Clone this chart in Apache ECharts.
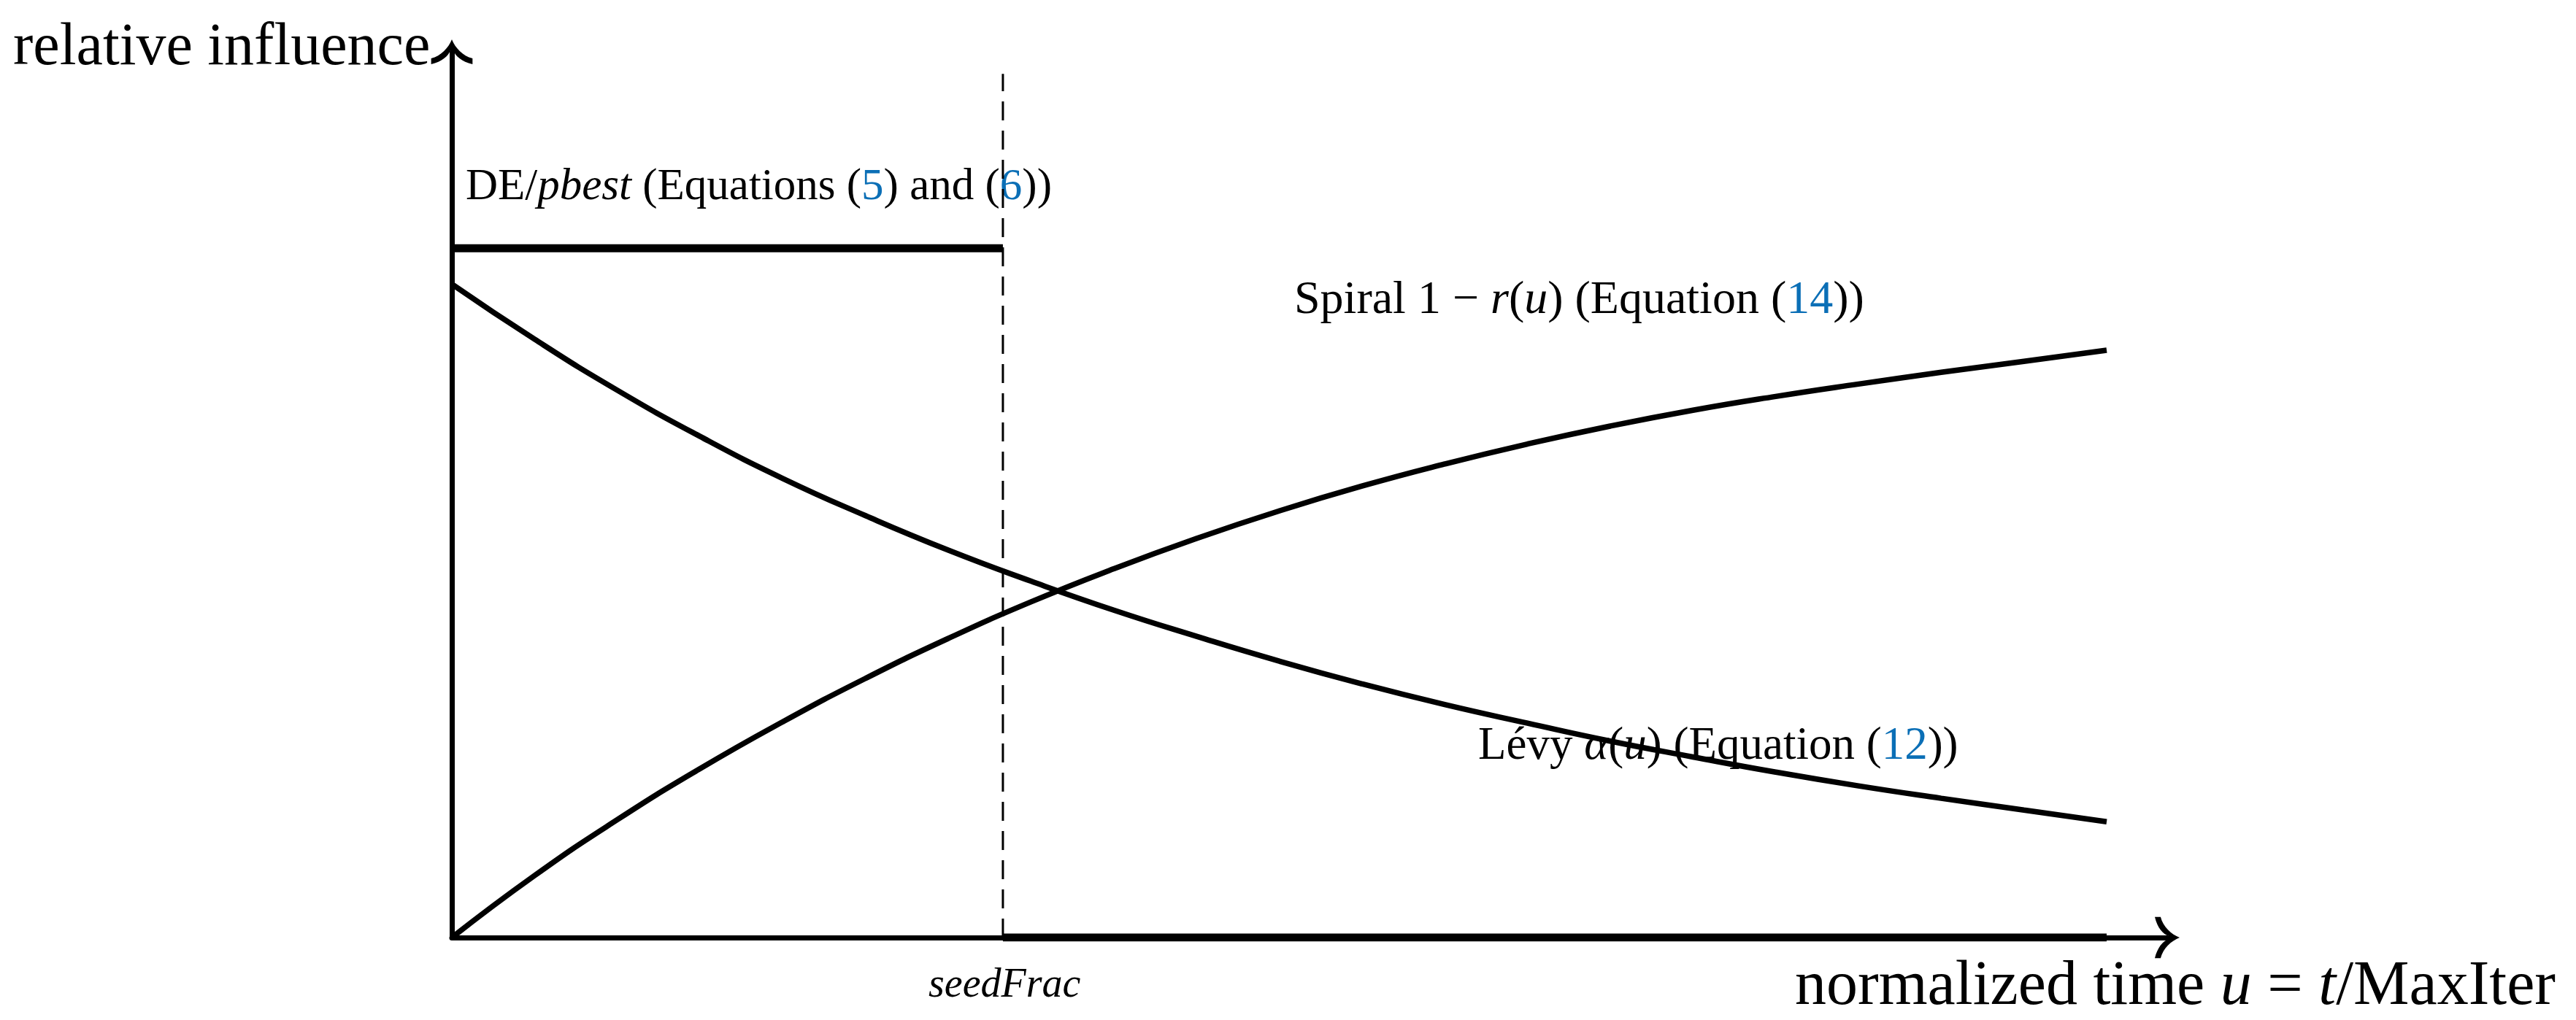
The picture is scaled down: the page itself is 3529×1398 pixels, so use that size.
<!DOCTYPE html>
<html>
<head>
<meta charset="utf-8">
<title>relative influence</title>
<script src="https://cdn.jsdelivr.net/npm/echarts@6.0.0/dist/echarts.min.js"></script>
<style>
  html, body { margin: 0; padding: 0; background: #fff; }
  #chart { width: 3529px; height: 1398px; }
</style>
</head>
<body>
<div id="chart"></div>
<script>
// normalized time u = t/MaxIter
var uSteps = [0, 0.05, 0.1, 0.15, 0.2, 0.25, 0.3, 0.35, 0.4, 0.45, 0.5,
  0.55, 0.6, 0.65, 0.7, 0.75, 0.8, 0.85, 0.9, 0.95, 1]
// Spiral 1 - r(u)
var spiralValues = [0, 0.090, 0.171, 0.245, 0.313, 0.376, 0.434, 0.487, 0.535, 0.579, 0.619,
  0.655, 0.687, 0.716, 0.742, 0.765, 0.785, 0.803, 0.820, 0.836, 0.852]
// Levy alpha(u)
var levyValues = [0.948, 0.868, 0.794, 0.727, 0.666, 0.612, 0.562, 0.517, 0.475, 0.437, 0.401,
  0.368, 0.338, 0.311, 0.285, 0.262, 0.240, 0.220, 0.202, 0.185, 0.168]
// DE/pbest is on until seedFrac, off after it
var seedFrac = 0.333
var deOn = [[0, 1], [seedFrac, 1]]
var deOff = [[seedFrac, 0], [1, 0]]
var seedLine = [[seedFrac, 0], [seedFrac, 1.253]]

var BLUE = '#0b6fb6'
var FONT = '"Liberation Serif", "DejaVu Serif", serif'
// LaTeX style open arrow head, pointing up (with a short stem so the axis joins it)
var ARROW = 'path://M50,0 C58,20 76,40 100,46 L100,60 C74,54 58,40 53.5,26 L53.5,60 L46.5,60 L46.5,26 C42,40 26,54 0,60 L0,46 C24,40 42,20 50,0 Z'

function pairs(xs, ys) {
  return xs.map(function(x, i) { return [x, ys[i]] })
}

function rich(size) {
  return {
    i: { fontFamily: FONT, fontSize: size, fontStyle: 'italic', fill: '#000' },
    b: { fontFamily: FONT, fontSize: size, fill: BLUE },
    n: { fontFamily: FONT, fontSize: size, fill: '#000' }
  }
}

function label(x, y, text, size, align) {
  return {
    type: 'text',
    x: x,
    y: y,
    z: 0,
    silent: true,
    style: {
      text: text,
      fontFamily: FONT,
      fontSize: size,
      fill: '#000',
      align: align || 'left',
      verticalAlign: 'middle',
      rich: rich(size)
    }
  }
}

function axisStyle() {
  return {
    show: true,
    symbol: ['none', ARROW],
    symbolSize: [58, 34],
    lineStyle: { color: '#000', width: 7 }
  }
}

var myChart = echarts.init(document.getElementById('chart'), null, { renderer: 'canvas' })
myChart.setOption({
  animation: false,
  backgroundColor: '#fff',
  grid: { left: 619, top: 71, width: 2350, height: 1214, containLabel: false },
  xAxis: {
    type: 'value',
    min: 0,
    max: 1.0366,
    axisLine: axisStyle(),
    axisTick: { show: false },
    axisLabel: { show: false },
    splitLine: { show: false }
  },
  yAxis: {
    type: 'value',
    min: 0,
    max: 1.285,
    axisLine: axisStyle(),
    axisTick: { show: false },
    axisLabel: { show: false },
    splitLine: { show: false }
  },
  graphic: [
    label(18, 66, 'relative influence', 82),
    label(638, 257, '{n|DE/}{i|pbest}{n| (Equations (}{b|5}{n|) and (}{b|6}{n|))}', 61),
    label(1773, 412, '{n|Spiral 1 − }{i|r}{n|(}{i|u}{n|) (Equation (}{b|14}{n|))}', 64),
    label(2025, 1023, '{n|Lévy }{i|α}{n|(}{i|u}{n|) (Equation (}{b|12}{n|))}', 63),
    label(1272, 1351, '{i|seedFrac}', 56),
    label(3501, 1353, '{n|normalized time }{i|u}{n| = }{i|t}{n|/MaxIter}', 86, 'right')
  ],
  series: [
    {
      name: 'seedFrac',
      type: 'line',
      data: seedLine,
      symbol: 'none',
      lineStyle: { color: '#000', width: 3, type: [26, 14] },
      z: 3
    },
    {
      name: 'DE/pbest on',
      type: 'line',
      data: deOn,
      symbol: 'none',
      lineStyle: { color: '#000', width: 11, cap: 'butt' },
      z: 4
    },
    {
      name: 'DE/pbest off',
      type: 'line',
      data: deOff,
      symbol: 'none',
      lineStyle: { color: '#000', width: 11, cap: 'butt' },
      z: 4
    },
    {
      name: 'Spiral',
      type: 'line',
      data: pairs(uSteps, spiralValues),
      smooth: true,
      symbol: 'none',
      lineStyle: { color: '#000', width: 7.5 },
      z: 4
    },
    {
      name: 'Levy',
      type: 'line',
      data: pairs(uSteps, levyValues),
      smooth: true,
      symbol: 'none',
      lineStyle: { color: '#000', width: 7.5 },
      z: 4
    }
  ]
})
</script>
</body>
</html>
